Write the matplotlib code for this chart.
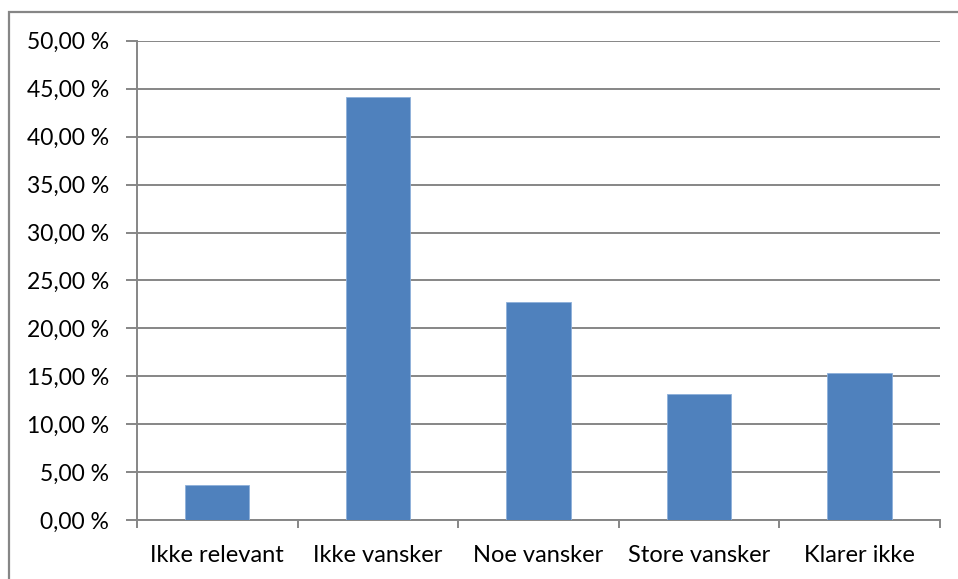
import matplotlib
matplotlib.use("Agg")
import matplotlib.pyplot as plt
from matplotlib.patches import Rectangle
from matplotlib.ticker import FixedLocator, FuncFormatter

categories = ["Ikke relevant", "Ikke vansker", "Noe vansker", "Store vansker", "Klarer ikke"]
shares = [3.65, 44.15, 22.8, 13.15, 15.35]
y_ticks = [0, 5, 10, 15, 20, 25, 30, 35, 40, 45, 50]

plt.rcParams["font.family"] = ["Lato", "DejaVu Sans"]
grey = "#868686"

fig = plt.figure(figsize=(9.58, 5.79), dpi=100)
ax = fig.add_axes([0.143, 0.1014, 0.838, 0.8283])

x = range(len(categories))
ax.bar(x, shares, width=0.4, color="#4F81BD", edgecolor="#8EB0DA", linewidth=0.6, zorder=3)

ax.set_xlim(-0.5, len(categories) - 0.5)
ax.set_ylim(0, 50)
ax.yaxis.set_major_locator(FixedLocator(y_ticks))
ax.yaxis.set_major_formatter(FuncFormatter(lambda v, _: f"{v:.2f}".replace(".", ",") + " %"))
ax.grid(axis="y", color=grey, linewidth=1.4, zorder=0)

# category labels centred under bars, tick marks on the boundaries
ax.set_xticks(list(x))
ax.set_xticklabels(categories)
ax.set_xticks([i - 0.5 for i in range(len(categories) + 1)], minor=True)
ax.tick_params(axis="x", which="major", length=0, pad=18, labelsize=17)
ax.tick_params(axis="x", which="minor", length=6, width=1.4, color=grey, direction="out")
ax.tick_params(axis="y", length=8, width=1.4, color=grey, pad=12, labelsize=16.5)

for side in ("top", "right"):
    ax.spines[side].set_visible(False)
for side in ("left", "bottom"):
    ax.spines[side].set_color(grey)
    ax.spines[side].set_linewidth(1.4)

# chart frame
fig.patches.append(Rectangle((8.5 / 958, -0.05), 1.2, 1 - 12 / 579 + 0.05,
                             transform=fig.transFigure, fill=False,
                             edgecolor=grey, linewidth=1.6))

fig.savefig("out.png", dpi=100)
